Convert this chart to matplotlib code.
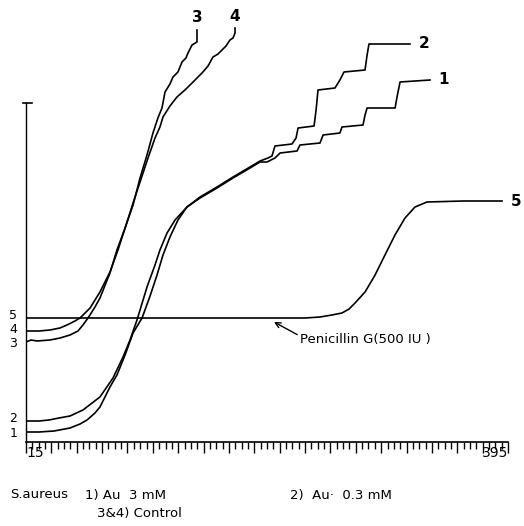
import numpy as np
import matplotlib
matplotlib.use("Agg")
import matplotlib.pyplot as plt

# Growth curves, S. aureus (time in min, response in arbitrary chart units)
x1 = [15, 25.3, 37.1, 49.7, 57.6, 63.1, 69.4, 73.3, 81.2, 86.7, 93.1, 99.4, 106.5, 112.8,
      118.3, 123.0, 128.5, 134.8, 141.9, 152.2, 165.6, 178.2, 191.6, 199.5, 205.0, 211.3,
      215.3, 228.7, 231.0, 246.8, 249.2, 262.5, 264.1, 280.7, 282.3, 283.9, 306.0, 307.5,
      309.9, 333.5]
y1 = [10, 10, 11, 14, 18, 22, 29, 35, 55, 67, 87, 109, 124, 146, 167, 187, 205, 222, 235,
      244, 254, 264, 274, 280, 280, 284, 289, 291, 297, 299, 307, 309, 315, 317, 327, 334,
      334, 345, 360, 362]

x2 = [15, 25.3, 33.1, 41.0, 49.7, 59.9, 73.3, 83.6, 91.5, 97.0, 102.5, 110.4, 116.7, 120.6,
      126.2, 132.5, 141.9, 152.2, 165.6, 178.2, 191.6, 199.5, 205.8, 208.9, 211.3, 224.7,
      227.9, 229.5, 242.1, 243.7, 245.2, 258.6, 262.5, 265.7, 282.3, 283.9, 285.4, 317.7]
y2 = [21, 21, 22, 24, 26, 32, 45, 64, 85, 102, 122, 155, 177, 192, 209, 222, 235, 245, 255,
      265, 275, 281, 284, 286, 296, 298, 304, 314, 316, 332, 352, 354, 362, 370, 372, 387,
      398, 398]

x3 = [15, 19.0, 23.7, 33.9, 41.8, 49.7, 56.0, 59.9, 63.9, 69.4, 73.3, 81.2, 86.7, 93.1,
      99.4, 104.9, 110.4, 115.1, 119.0, 122.2, 124.6, 128.5, 130.9, 134.8, 138.0, 141.1,
      142.7, 145.9, 149.8, 149.8]
y3 = [100, 102, 101, 102, 104, 107, 111, 117, 124, 135, 144, 169, 192, 214, 237, 264, 287,
      309, 324, 334, 350, 358, 365, 370, 380, 384, 389, 397, 400, 412]

x4 = [15, 25.3, 33.9, 41.8, 47.3, 53.6, 57.6, 65.5, 73.3, 81.2, 87.5, 93.9, 99.4, 104.9,
      111.2, 116.7, 120.6, 123.0, 128.5, 134.0, 140.3, 146.7, 154.5, 158.5, 162.4, 166.4,
      169.5, 172.7, 175.8, 178.2, 179.8, 179.8]
y4 = [111, 111, 112, 114, 117, 121, 124, 134, 150, 170, 192, 217, 239, 260, 284, 304, 315,
      325, 336, 345, 352, 360, 370, 376, 385, 388, 392, 396, 402, 404, 409, 414]

x5 = [15, 100.0, 160.0, 210.5, 220.8, 235.0, 246.8, 256.2, 264.1, 269.7, 274.4, 282.3,
      290.2, 298.0, 305.9, 313.8, 321.7, 331.1, 360.0, 390.3]
y5 = [124, 124, 124, 124, 124, 124, 125, 127, 129, 133, 139, 150, 167, 187, 207, 224, 235,
      240, 241, 241]

curves = [(x1, y1, "1"), (x2, y2, "2"), (x3, y3, "3"), (x4, y4, "4"), (x5, y5, "5")]
# small vertical nudges (points) for the crowded start labels
start_nudge = {"1": -1, "2": 2, "3": -1, "4": 1, "5": 2}

W, H = 524, 526
fig = plt.figure(figsize=(W / 100, H / 100), dpi=100)
ax = fig.add_axes([26 / W, 84 / H, 482 / W, 442 / H])
ax.set_xlim(15, 395)
ax.set_ylim(0, 442)

for xs, ys, lab in curves:
    ax.plot(xs, ys, color="black", lw=1.2, solid_joinstyle="round")
    # label at the start of each curve, left of the y-axis
    ax.annotate(lab, xy=(15, ys[0]), xytext=(-9, start_nudge[lab]), textcoords="offset points",
                ha="center", va="center", fontsize=9, annotation_clip=False)

# labels at curve ends
ax.annotate("3", xy=(x3[-1], y3[-1]), xytext=(0, 9), textcoords="offset points",
            ha="center", va="center", fontsize=11, fontweight="bold")
ax.annotate("4", xy=(x4[-1], y4[-1]), xytext=(0, 8), textcoords="offset points",
            ha="center", va="center", fontsize=11, fontweight="bold")
for xs, ys, lab in [curves[1], curves[0], curves[4]]:
    ax.annotate(lab, xy=(xs[-1], ys[-1]), xytext=(10, 0), textcoords="offset points",
                ha="center", va="center", fontsize=11, fontweight="bold")

ax.annotate("Penicillin G(500 IU )", xy=(210.5, 120), xytext=(231, 102),
            ha="left", va="center", fontsize=9.5,
            arrowprops=dict(arrowstyle="->", color="black", lw=1.0,
                            shrinkA=0, shrinkB=0, relpos=(0, 0.8)))

for s in ["top", "right"]:
    ax.spines[s].set_visible(False)
ax.spines["left"].set_bounds(0, 339)
ax.spines["left"].set_linewidth(1.0)
ax.spines["bottom"].set_linewidth(1.2)
ax.plot([13, 20], [339, 339], color="black", lw=1.2, clip_on=False)

ax.set_yticks([])
major = np.arange(15, 396, 20)
ax.set_xticks(major)
ax.set_xticklabels(["15"] + [""] * (len(major) - 2) + ["395"], fontsize=10)
ax.set_xticks(np.arange(15, 396, 5), minor=True)
ax.tick_params(axis="x", which="major", length=8, width=1.0, pad=-5)
ax.tick_params(axis="x", which="minor", length=5, width=1.0)
labels = ax.xaxis.get_ticklabels()
labels[-1].set_horizontalalignment("right")
labels[0].set_horizontalalignment("left")

fig.text(10 / W, 1 - 495 / H, "S.aureus", fontsize=9.5, va="center")
fig.text(85 / W, 1 - 495 / H, "1) Au  3 mM", fontsize=9.5, va="center")
fig.text(290 / W, 1 - 495 / H, "2)  Au·  0.3 mM", fontsize=9.5, va="center")
fig.text(97 / W, 1 - 513 / H, "3&4) Control", fontsize=9.5, va="center")

fig.savefig("out.png", dpi=100)
